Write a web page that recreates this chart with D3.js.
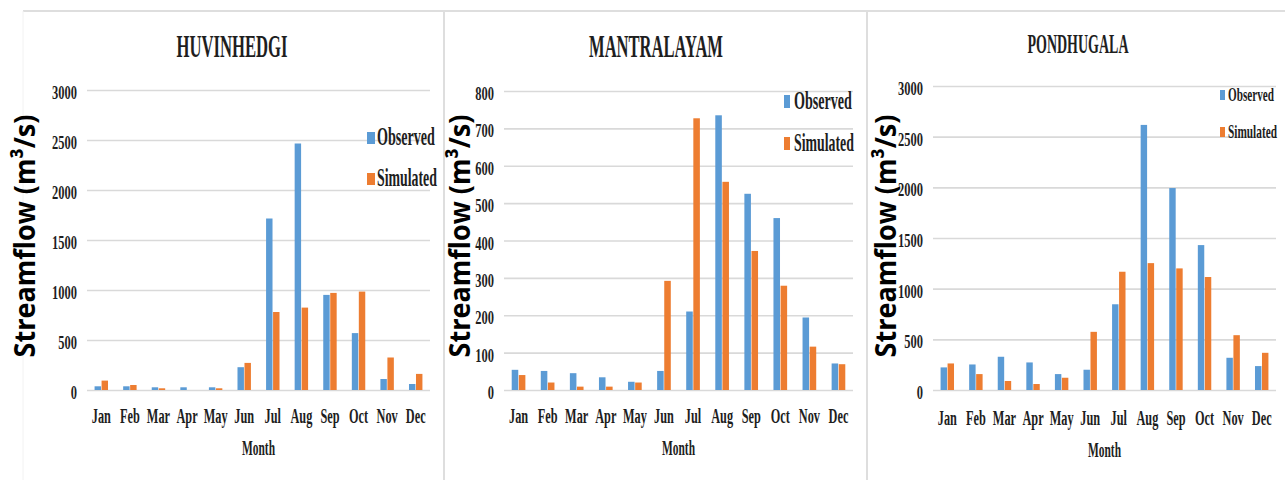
<!DOCTYPE html>
<html>
<head>
<meta charset="utf-8">
<script src="https://cdn.jsdelivr.net/npm/d3@7"></script>
<style>
  html, body { margin: 0; padding: 0; background: #fff; }
  svg { display: block; }
  .serif { font-family: "Liberation Serif", "Times New Roman", serif; font-weight: bold; fill: #1e1e1e; }
  .ylab { font-family: "Open Sans", "Noto Sans", sans-serif; font-weight: 700; fill: #000; }
</style>
</head>
<body>
<svg id="chart" width="1285" height="480"></svg>
<script>
// Monthly mean streamflow (m3/s), observed vs simulated, at three gauging stations
const months = ["Jan", "Feb", "Mar", "Apr", "May", "Jun", "Jul", "Aug", "Sep", "Oct", "Nov", "Dec"];
const seriesNames = ["Observed", "Simulated"];

const huvinhedgiObserved  = [37, 37, 27, 27, 27, 228, 1715, 2465, 951, 569, 110, 60];
const huvinhedgiSimulated = [94, 50, 17, 0, 17, 271, 780, 824, 971, 984, 325, 161];
const huvinhedgiTicks = [0, 500, 1000, 1500, 2000, 2500, 3000];

const mantralayamObserved  = [54, 51, 45, 34, 22, 51, 210, 735, 525, 460, 194, 71];
const mantralayamSimulated = [40, 20, 9, 9, 20, 292, 727, 557, 372, 279, 116, 69];
const mantralayamTicks = [0, 100, 200, 300, 400, 500, 600, 700, 800];

const pondhugalaObserved  = [223, 252, 328, 272, 157, 200, 846, 2616, 1993, 1430, 318, 236];
const pondhugalaSimulated = [262, 157, 89, 59, 121, 574, 1167, 1252, 1200, 1115, 541, 367];
const pondhugalaTicks = [0, 500, 1000, 1500, 2000, 2500, 3000];

const colors = { Observed: "#5B9BD5", Simulated: "#ED7D31" };

const svg = d3.select("#chart");

// panel frames
const frame = svg.append("g").attr("stroke", "#dedede").attr("fill", "none");
frame.append("line").attr("x1", 23).attr("x2", 1285).attr("y1", 11).attr("y2", 11).attr("stroke-width", 2);
frame.append("line").attr("x1", 23).attr("x2", 23).attr("y1", 11).attr("y2", 480).attr("stroke", "#f2f2f2").attr("stroke-width", 1);
frame.append("line").attr("x1", 444).attr("x2", 444).attr("y1", 11).attr("y2", 480).attr("stroke-width", 2);
frame.append("line").attr("x1", 867).attr("x2", 867).attr("y1", 11).attr("y2", 480).attr("stroke-width", 2);

// condensed serif text, squeezed to a given width
function fitText(g, x, y, str, size, width, anchor) {
  const t = g.append("text")
    .attr("class", "serif")
    .attr("text-anchor", anchor || "middle")
    .style("font-size", size + "px")
    .text(str);
  const w = t.node().getComputedTextLength();
  t.attr("transform", `translate(${x},${y}) scale(${width / w},1)`);
  return t;
}

const panels = [
  {
    title: "HUVINHEDGI", obs: huvinhedgiObserved, sim: huvinhedgiSimulated, ticks: huvinhedgiTicks,
    left: 87, right: 430, top: 90, bottom: 390,
    titleX: 232, titleY: 57, titleSize: 31, titleW: 111,
    ylabX: 35, tickSize: 19.5, tickSx: 0.64,
    legend: { x: 367, y1: 132, y2: 173, w: 8, h: 12, size: 25, textX: 377, wObs: 58, wSim: 60 },
    monthY: 423, monthTitleY: 455, monthSize: 20.5
  },
  {
    title: "MANTRALAYAM", obs: mantralayamObserved, sim: mantralayamSimulated, ticks: mantralayamTicks,
    left: 504, right: 853, top: 91, bottom: 390,
    titleX: 656, titleY: 57, titleSize: 31, titleW: 134,
    ylabX: 470, tickSize: 19.5, tickSx: 0.64,
    legend: { x: 784, y1: 95, y2: 137, w: 6, h: 13, size: 25, textX: 794, wObs: 58, wSim: 60 },
    monthY: 423, monthTitleY: 455, monthSize: 20.5
  },
  {
    title: "PONDHUGALA", obs: pondhugalaObserved, sim: pondhugalaSimulated, ticks: pondhugalaTicks,
    left: 933, right: 1276, top: 86, bottom: 390,
    titleX: 1078, titleY: 53, titleSize: 27, titleW: 101,
    ylabX: 896, tickSize: 19.5, tickSx: 0.64,
    legend: { x: 1220, y1: 90, y2: 127, w: 5, h: 10, size: 19, textX: 1228, wObs: 46, wSim: 49 },
    monthY: 425, monthTitleY: 457, monthSize: 20.5
  }
];

panels.forEach(p => {
  const g = svg.append("g");
  const W = p.right - p.left;

  const y = d3.scaleLinear().domain([0, d3.max(p.ticks)]).range([p.bottom, p.top]);
  const x = d3.scaleBand().domain(months).range([p.left, p.right]).paddingInner(0.53).paddingOuter(0.265);
  const xs = d3.scaleBand().domain(seriesNames).range([0, x.bandwidth()]).paddingInner(0.08);

  // gridlines + tick labels
  const yAxis = g.append("g")
    .attr("transform", `translate(${p.left},0)`)
    .call(d3.axisLeft(y).tickValues(p.ticks).tickSize(-W).tickFormat(d3.format("d")));
  yAxis.select(".domain").remove();
  yAxis.selectAll(".tick line").attr("stroke", "#d9d9d9").attr("stroke-width", 1.6);
  yAxis.selectAll(".tick text")
    .attr("class", "serif")
    .attr("x", null).attr("dy", null)
    .attr("text-anchor", "end")
    .attr("transform", `translate(-10,${p.tickSize * 0.36 + 1.5}) scale(${p.tickSx},1)`)
    .style("font-size", p.tickSize + "px");

  // month labels
  const xAxis = g.append("g")
    .attr("transform", `translate(0,${p.bottom})`)
    .call(d3.axisBottom(x).tickSize(0));
  xAxis.select(".domain").remove();
  xAxis.selectAll(".tick text")
    .attr("class", "serif")
    .attr("y", null).attr("dy", null)
    .attr("transform", `translate(0,${p.monthY - p.bottom}) scale(0.6,1)`)
    .style("font-size", p.monthSize + "px");

  // bars
  const rows = months.map((m, i) => ({ month: m, Observed: p.obs[i], Simulated: p.sim[i] }));
  const grp = g.append("g").selectAll("g").data(rows).join("g")
    .attr("transform", d => `translate(${x(d.month)},0)`);
  grp.selectAll("rect")
    .data(d => seriesNames.map(k => ({ key: k, value: d[k] })))
    .join("rect")
    .attr("x", d => xs(d.key))
    .attr("width", xs.bandwidth())
    .attr("y", d => y(d.value))
    .attr("height", d => y(0) - y(d.value))
    .attr("fill", d => colors[d.key]);

  // title
  fitText(g, p.titleX, p.titleY, p.title, p.titleSize, p.titleW, "middle");

  // x axis title
  fitText(g, (p.left + p.right) / 2, p.monthTitleY, "Month", p.monthSize, 33, "middle");

  // y axis title
  const yl = g.append("text")
    .attr("class", "ylab")
    .attr("text-anchor", "middle")
    .style("font-size", "29px")
    .text("Streamflow (m³/s)");
  const yw = yl.node().getComputedTextLength();
  yl.attr("transform", `translate(${p.ylabX},236) rotate(-90) scale(${243 / yw},1)`);

  // legend
  const L = p.legend;
  [["Observed", L.y1, L.wObs], ["Simulated", L.y2, L.wSim]].forEach(([name, ly, lw]) => {
    g.append("rect").attr("x", L.x).attr("y", ly).attr("width", L.w).attr("height", L.h).attr("fill", colors[name]);
    fitText(g, L.textX, ly + L.h + 1, name, L.size, lw, "start");
  });
});
</script>
</body>
</html>
